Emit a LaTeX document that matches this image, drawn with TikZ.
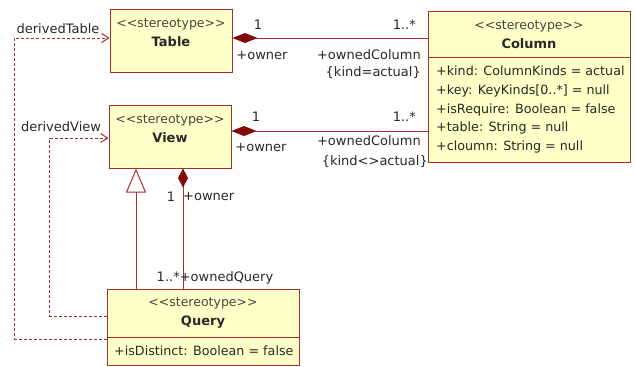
\documentclass[tikz,border=0pt]{standalone}
\usepackage{fontspec}
\setmainfont{DejaVu Sans}[Ligatures=NoCommon]
\usetikzlibrary{arrows.meta}
\definecolor{umlborder}{RGB}{165,45,45}
\definecolor{umlfill}{RGB}{255,255,200}
\definecolor{umldiamond}{RGB}{130,10,10}
\definecolor{stereo}{RGB}{70,70,70}
\definecolor{txt}{RGB}{40,40,40}
\newcommand\stypetext{{\color{stereo}\fontsize{12.5}{19}\selectfont<{}<stereotype>{}>}}
\begin{document}
\begin{tikzpicture}[x=1pt,y=-1pt,
  font=\fontsize{13}{16}\selectfont,
  box/.style={draw=umlborder, fill=umlfill, line width=1pt, inner sep=0pt},
  head/.style={inner sep=0pt, align=center, font=\fontsize{13}{19}\selectfont, text=txt},
  attrt/.style={inner sep=0pt, anchor=west, align=left, font=\fontsize{12.7}{18.75}\selectfont, text=txt},
  lbl/.style={inner sep=0pt, text=txt},
  comp/.style={draw=umlborder, line width=1pt, {Diamond[fill=umldiamond, color=umldiamond, length=25pt, width=10pt]}-},
  compv/.style={draw=umlborder, line width=1pt, {Diamond[fill=umldiamond, color=umldiamond, length=19pt, width=10pt]}-},
  gen/.style={draw=umlborder, line width=1pt, -{Triangle[open, fill=white, length=24pt, width=20pt]}},
  dep/.style={draw=umlborder, line width=1pt, dash pattern=on 3pt off 2pt, -{Straight Barb[length=7pt, width=9pt]}}
]
\useasboundingbox (0,0) rectangle (635,367);

% Table
\node[box, minimum width=122pt, minimum height=63pt] (table) at (171,40.5) {};
\node[head] (tablet) at (171,33) {\stypetext\\\textbf{Table}};

% View
\node[box, minimum width=122pt, minimum height=63pt] (view) at (170,136.5) {};
\node[head] (viewt) at (170,129) {\stypetext\\\textbf{View}};

% Column
\node[box, minimum width=202pt, minimum height=46pt] (colhead) at (529,34) {};
\node[head] (colheadt) at (529,35) {\stypetext\\\textbf{Column}};
\node[box, minimum width=202pt, minimum height=105pt] (colattr) at (529,109.5) {};
\node[attrt] (colattrt) at (436,109.5)
  {+kind: ColumnKinds = actual\\+key: KeyKinds[0..*] = null\\+isRequire: Boolean = false\\+table: String = null\\+cloumn: String = null};

% Query
\node[box, minimum width=192pt, minimum height=48pt] (qhead) at (203,313) {};
\node[head] (qheadt) at (203,313) {\stypetext\\\textbf{Query}};
\node[box, minimum width=192pt, minimum height=28pt] (qattr) at (203,351) {};
\node[attrt] (qattrt) at (114,351) {+isDistinct: Boolean = false};

% connectors
\draw[comp] ([yshift=2.5pt]table.east) -- ([yshift=2.5pt]table.east -| colhead.west);
\draw[comp] ([yshift=5.5pt]view.east) -- ([yshift=5.5pt]view.east -| colattr.west);
\draw[compv] ([xshift=13pt]view.south) -- ([xshift=13pt]view.south |- qhead.north);
\draw[gen] ([xshift=-34pt]view.south |- qhead.north) -- ([xshift=-34pt]view.south);
\draw[dep] ([yshift=12pt]qattr.west) -- ++(-92,0) |- ([yshift=2.5pt]table.west);
\draw[dep] ([yshift=-3pt]qhead.west) -- ++(-57,0) |- ([yshift=-1.5pt]view.west);

% labels
\node[lbl] (l1) at (58,29) {derivedTable};
\node[lbl] (l2) at (61,127) {derivedView};
\node[lbl] (l3) at (258,25) {1};
\node[lbl] (l4) at (262,56) {+owner};
\node[lbl, anchor=east] (l5) at (416,25) {1..*};
\node[lbl, anchor=east] (l6) at (421,55) {+ownedColumn};
\node[lbl, anchor=east] (l7) at (421,73) {\{kind=actual\}};
\node[lbl] (l8) at (256,117) {1};
\node[lbl] (l9) at (261,148) {+owner};
\node[lbl, anchor=east] (l10) at (416,117) {1..*};
\node[lbl, anchor=east] (l11) at (421,141) {+ownedColumn};
\node[lbl, anchor=east] (l12) at (428,162) {\{kind<>actual\}};
\node[lbl] (l13) at (171,197) {1};
\node[lbl, anchor=west] (l14) at (183,197) {+owner};
\node[lbl] (l15) at (215,278) {1..*+ownedQuery};
\end{tikzpicture}
\end{document}
